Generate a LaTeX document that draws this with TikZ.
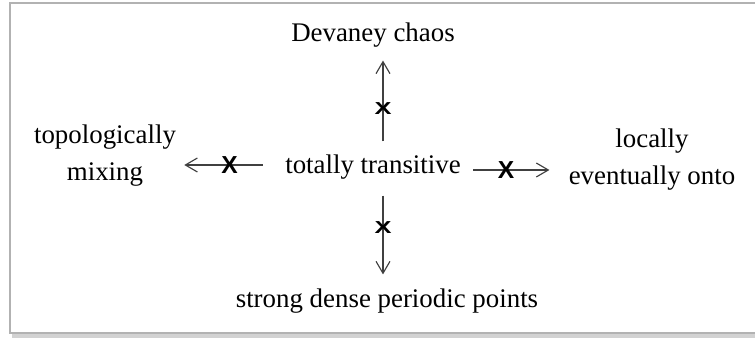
\documentclass[tikz,border=0pt]{standalone}
\usepackage{fontspec}
\setmainfont{Liberation Serif}
\newfontfamily\crossfont{Liberation Sans}
\usetikzlibrary{positioning, arrows.meta}

\begin{document}
\begin{tikzpicture}[x=0.02cm, y=-0.02cm, >={Straight Barb[length=0.24cm, width=0.28cm]}]

        % --- styles ---
        \tikzset{
            prop/.style={inner sep=0pt, align=center, font=\fontsize{15.3}{21}\selectfont},
            arr/.style={->, line width=0.65pt, black!75},
            hcross/.style={inner sep=0pt, text=black, font=\crossfont\bfseries\fontsize{14}{14}\selectfont},
            vcross/.style={inner sep=0pt, text=black, font=\crossfont\bfseries\fontsize{14.5}{14.5}\selectfont}
        }

        % --- frame ---
        \useasboundingbox (0,0) rectangle (755,340);
        \draw[gray!35, line width=3pt] (12,335) -- (770,335);
        \draw[gray!60, line width=0.8pt] (10,3) rectangle (770,333);

        % --- properties ---
        \node[prop] (tt) at (373,167) {totally transitive};
        \node[prop] (dc) at (373,35) {Devaney chaos};
        \node[prop] (tm) at (105,156) {topologically\\mixing};
        \node[prop] (leo) at (652,160) {locally\\eventually onto};
        \node[prop] (sd) at (387,301) {strong dense periodic points};

        % --- implications that fail ---
        \draw[arr, shorten <=0.26cm, shorten >=0.26cm] ([xshift=0.2cm]tt.north) -- ([xshift=0.2cm]tt.north |- dc.south)
            node[pos=0.43, vcross] {\scalebox{1}[0.68]{X}};
        \draw[arr, shorten <=0.32cm, shorten >=0.28cm] ([xshift=0.2cm]tt.south) -- ([xshift=0.2cm]tt.south |- sd.north)
            node[pos=0.44, vcross] {\scalebox{1}[0.68]{X}};
        \draw[arr, shorten <=0.44cm, shorten >=0.16cm] ([yshift=0.04cm]tt.west) -- ([yshift=0.04cm]tt.west -| tm.east)
            node[pos=0.51, hcross] {X};
        \draw[arr, shorten <=0.24cm, shorten >=0.38cm] ([yshift=-0.06cm]tt.east) -- ([yshift=-0.06cm]tt.east -| leo.west)
            node[pos=0.42, hcross] {X};

\end{tikzpicture}
\end{document}
